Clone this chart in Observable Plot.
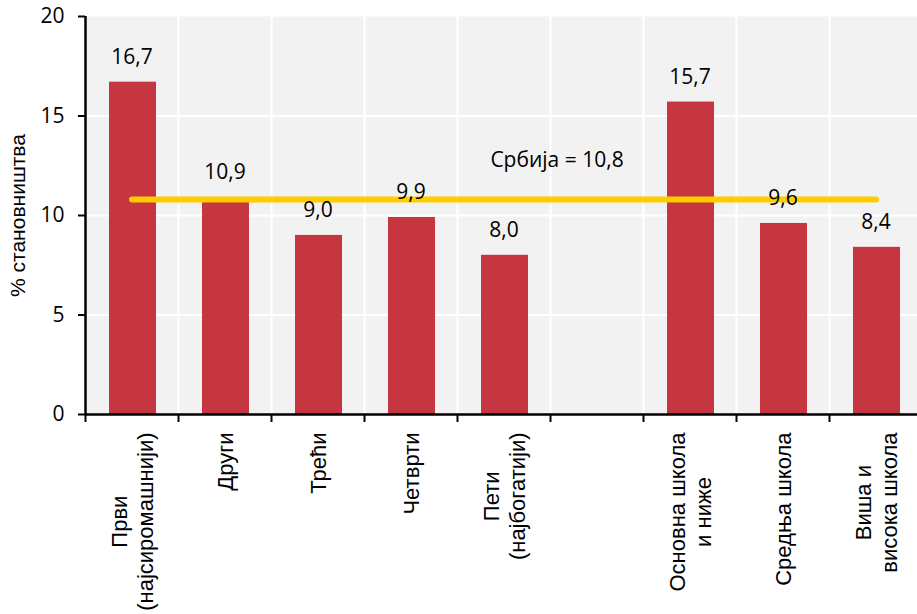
<!DOCTYPE html>
<html>
<head>
<meta charset="utf-8">
<script src="https://cdn.jsdelivr.net/npm/d3@7"></script>
<script src="https://cdn.jsdelivr.net/npm/@observablehq/plot@0.6"></script>
<style>
  html, body { margin: 0; padding: 0; background: #fff; }
  #chart { width: 917px; height: 614px; overflow: hidden; }
</style>
</head>
<body>
<div id="chart"></div>
<script>
// Quintile and education groups; the empty entry is a spacer slot between the two groups
const categories = [
  "Први\n(најсиромашнији)",
  "Други",
  "Трећи",
  "Четврти",
  "Пети\n(најбогатији)",
  "",
  "Основна школа\nи ниже",
  "Средња школа",
  "Виша и\nвисока школа"
];
const values = [16.7, 10.9, 9.0, 9.9, 8.0, null, 15.7, 9.6, 8.4];
const serbia = 10.8;
const yTicks = [0, 5, 10, 15, 20];
const yTitle = "% становништва";

const fmt = (v) => v.toFixed(1).replace(".", ",");

const rows = categories.map((label, i) => ({slot: i, label, value: values[i]}));
const bars = rows.filter((d) => d.value != null);
const spacer = rows.find((d) => !d.label);
const edges = rows.map((d) => d.slot).concat(categories.length);

// measure category label lines so multi-line labels hang from the axis, centred per line
const ctx = document.createElement("canvas").getContext("2d");
const labelFont = "Liberation Sans";
const labelSize = 22;
ctx.font = `${labelSize}px "${labelFont}"`;
const extent = (s) => d3.max(s.split("\n"), (l) => ctx.measureText(l).width);

const numFont = "Open Sans";

const plot = Plot.plot({
  width: 922,
  height: 614,
  marginLeft: 85,
  marginRight: 0,
  marginTop: 16,
  marginBottom: 200,
  style: {maxWidth: "none", background: "#fff"},
  x: {type: "linear", domain: [0, categories.length], label: null},
  y: {domain: [0, 20], label: null},
  marks: [
    Plot.frame({fill: "#F2F2F2", stroke: null}),
    Plot.ruleY(yTicks.filter((t) => t > 0 && t < 20), {stroke: "#fff", strokeWidth: 2}),
    Plot.ruleX(edges, {stroke: "#fff", strokeWidth: 2}),
    Plot.rectY(bars, {
      x1: "slot",
      x2: (d) => d.slot + 1,
      y: "value",
      insetLeft: 24,
      insetRight: 22,
      fill: "#C63640"
    }),
    Plot.lineY(rows, {
      x: (d) => d.slot + 0.5,
      y: () => serbia,
      stroke: "#FFCC00",
      strokeWidth: 6,
      strokeLinecap: "round"
    }),
    Plot.ruleY([0], {stroke: "#000", strokeWidth: 2.5}),
    Plot.ruleX([0], {stroke: "#000", strokeWidth: 2.5}),
    Plot.axisY({
      ticks: yTicks,
      tickSize: 7,
      tickPadding: 14,
      strokeWidth: 2,
      fontSize: 21,
      fontFamily: numFont,
      tickFormat: (d) => String(d),
      label: null,
      fill: "#000",
      stroke: "#000"
    }),
    Plot.axisX({
      ticks: edges,
      tickSize: 8,
      strokeWidth: 2,
      tickFormat: () => "",
      label: null,
      stroke: "#000"
    }),
    Plot.text([yTitle], {
      text: (d) => d,
      frameAnchor: "left",
      rotate: -90,
      dx: -67,
      textAnchor: "middle",
      lineAnchor: "middle",
      fontSize: 21,
      fontFamily: labelFont,
      fill: "#000"
    }),
    ...rows.filter((d) => d.label).map((d) =>
      Plot.text([d], {
        x: (r) => r.slot + 0.5,
        text: "label",
        frameAnchor: "bottom",
        rotate: -90,
        textAnchor: "middle",
        lineAnchor: "middle",
        lineHeight: 1.18,
        dy: 18 + extent(d.label) / 2,
        fontSize: labelSize,
        fontFamily: labelFont,
        fill: "#000"
      })
    ),
    Plot.text(bars, {
      x: (d) => d.slot + 0.5,
      y: "value",
      text: (d) => fmt(d.value),
      dy: -25,
      fontSize: 21,
      fontFamily: numFont,
      fill: "#000"
    }),
    Plot.text([serbia], {
      x: () => spacer.slot + 0.5,
      y: (d) => d,
      text: (d) => `Србија = ${fmt(d)}`,
      dx: -40,
      dy: -39,
      fontSize: 21,
      fontFamily: numFont,
      fill: "#000"
    })
  ]
});

document.getElementById("chart").appendChild(plot);
</script>
</body>
</html>
